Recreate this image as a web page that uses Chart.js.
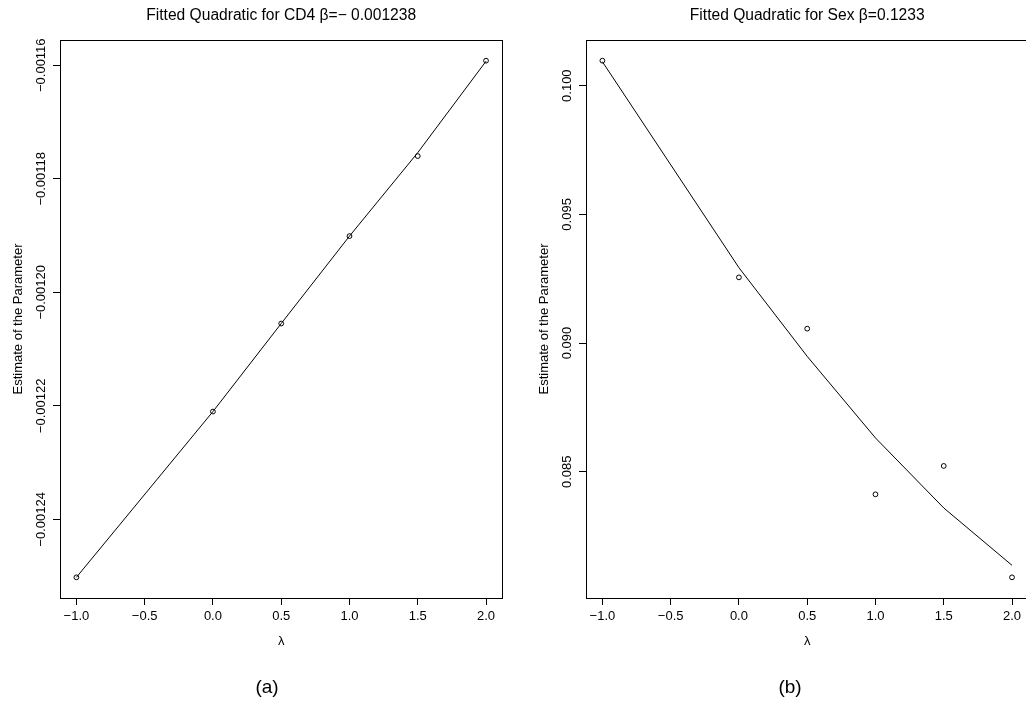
<!DOCTYPE html>
<html>
<head>
<meta charset="utf-8">
<title>Fitted Quadratic</title>
<script src="https://cdn.jsdelivr.net/npm/chart.js@4.4.0/dist/chart.umd.min.js"></script>
<style>
    html, body {
        margin: 0;
        padding: 0;
        background: #fff;
        overflow: hidden;
    }
    body {
        position: relative;
        width: 1026px;
        height: 705px;
        font-family: "Liberation Sans", Arial, sans-serif;
    }
    .panel {
        position: absolute;
        top: 0;
        width: 515px;
        height: 705px;
    }
    .caption {
        position: absolute;
        top: 676px;
        width: 100px;
        font-size: 19px;
        line-height: 22px;
        text-align: center;
        color: #000;
    }
</style>
</head>
<body>
<div class="panel" style="left:0"><canvas id="chart-a" width="515" height="705"></canvas></div>
<div class="panel" style="left:526px"><canvas id="chart-b" width="515" height="705"></canvas></div>
<div class="caption" style="left:217px">(a)</div>
<div class="caption" style="left:740px">(b)</div>

<script>
// values
const lambda = [-1, 0, 0.5, 1, 1.5, 2];

const cd4Est = [-0.0012502, -0.0012210, -0.0012055, -0.0011901, -0.0011760, -0.0011592];
const cd4Fit = [-0.0012502, -0.0012210, -0.0012055, -0.0011901, -0.0011754, -0.0011593];

const sexEst = [0.100971, 0.092552, 0.090559, 0.084122, 0.085225, 0.080897];
const sexFit = [0.100932, 0.092929, 0.089483, 0.086313, 0.083593, 0.081364];

const xTicks = [-1, -0.5, 0, 0.5, 1, 1.5, 2];
const xTickLabels = ['\u22121.0', '\u22120.5', '0.0', '0.5', '1.0', '1.5', '2.0'];

const cd4Ticks = [-0.00124, -0.00122, -0.00120, -0.00118, -0.00116];
const cd4TickLabels = ['\u22120.00124', '\u22120.00122', '\u22120.00120', '\u22120.00118', '\u22120.00116'];

const sexTicks = [0.085, 0.090, 0.095, 0.100];
const sexTickLabels = ['0.085', '0.090', '0.095', '0.100'];

const FONT = '"Liberation Sans", Arial, sans-serif';

// R style: range of the points plus 4% each side
function paddedRange(values) {
    const lo = Math.min(...values);
    const hi = Math.max(...values);
    const pad = (hi - lo) * 0.04;
    return [lo - pad, hi + pad];
}

// box round the plot and vertical y tick labels
const rFrame = {
    id: 'rFrame',
    afterDraw: function(chart) {
        const ctx = chart.ctx;
        const a = chart.chartArea;
        const y = chart.scales.y;
        ctx.save();
        ctx.strokeStyle = '#000';
        ctx.lineWidth = 1;
        const l = Math.round(a.left) + 0.5;
        const t = Math.round(a.top) + 0.5;
        const r = Math.round(a.right) + 0.5;
        const b = Math.round(a.bottom) + 0.5;
        ctx.strokeRect(l, t, r - l, b - t);

        ctx.fillStyle = '#000';
        ctx.font = '13px ' + FONT;
        ctx.textAlign = 'center';
        ctx.textBaseline = 'middle';
        y.ticks.forEach(tick => {
            const py = y.getPixelForValue(tick.value);
            ctx.save();
            ctx.translate(a.left - 19, py);
            ctx.rotate(-Math.PI / 2);
            ctx.fillText(tick.label, 0, 0);
            ctx.restore();
        });
        ctx.restore();
    }
};

function makePanel(canvasId, titleText, est, fit, yTicks, yTickLabels) {
    const xRange = paddedRange(lambda);
    const yRange = paddedRange(est);

    const config = {
        type: 'scatter',
        data: {
            datasets: [
                {
                    label: 'Fitted',
                    data: lambda.map((x, i) => ({ x: x, y: fit[i] })),
                    showLine: true,
                    borderColor: '#000',
                    borderWidth: 1,
                    pointRadius: 0,
                    tension: 0,
                    order: 2
                },
                {
                    label: 'Estimate',
                    data: lambda.map((x, i) => ({ x: x, y: est[i] })),
                    showLine: false,
                    pointRadius: 2.4,
                    pointBorderWidth: 1,
                    pointBorderColor: '#000',
                    pointBackgroundColor: 'rgba(0,0,0,0)',
                    order: 1
                }
            ]
        },
        options: {
            responsive: false,
            animation: false,
            events: [],
            layout: {
                padding: { left: 0, right: 12.6, top: 0, bottom: 0 }
            },
            scales: {
                x: {
                    type: 'linear',
                    min: xRange[0],
                    max: xRange[1],
                    afterBuildTicks: s => { s.ticks = xTicks.map(v => ({ value: v })); },
                    afterFit: s => { s.height = 107; },
                    grid: {
                        drawOnChartArea: false,
                        drawTicks: true,
                        tickLength: 7,
                        color: '#000'
                    },
                    border: { display: true, color: '#000', width: 1 },
                    ticks: {
                        color: '#000',
                        font: { family: FONT, size: 13 },
                        padding: 4,
                        maxRotation: 0,
                        autoSkip: false,
                        callback: (v, i) => xTickLabels[i]
                    },
                    title: {
                        display: true,
                        text: 'λ',
                        color: '#000',
                        font: { family: FONT, size: 13 },
                        padding: { top: 0, bottom: 56 }
                    }
                },
                y: {
                    type: 'linear',
                    min: yRange[0],
                    max: yRange[1],
                    afterBuildTicks: s => { s.ticks = yTicks.map(v => ({ value: v })); },
                    afterFit: s => { s.width = 60; },
                    grid: {
                        drawOnChartArea: false,
                        drawTicks: true,
                        tickLength: 7,
                        color: '#000'
                    },
                    border: { display: true, color: '#000', width: 1 },
                    ticks: {
                        color: 'rgba(0,0,0,0)',
                        font: { family: FONT, size: 13 },
                        autoSkip: false,
                        callback: (v, i) => yTickLabels[i]
                    },
                    title: {
                        display: true,
                        text: 'Estimate of the Parameter',
                        color: '#000',
                        font: { family: FONT, size: 13 },
                        padding: { top: 11, bottom: 0 }
                    }
                }
            },
            plugins: {
                legend: { display: false },
                tooltip: { enabled: false },
                title: {
                    display: true,
                    text: titleText,
                    color: '#000',
                    fullSize: false,
                    font: { family: FONT, size: 15.6, weight: 'normal' },
                    padding: { top: 6, bottom: 15.3 }
                }
            }
        },
        plugins: [rFrame]
    };

    new Chart(document.getElementById(canvasId).getContext('2d'), config);
}

makePanel('chart-a', 'Fitted Quadratic for CD4 β=\u2212 0.001238', cd4Est, cd4Fit, cd4Ticks, cd4TickLabels);
makePanel('chart-b', 'Fitted Quadratic for Sex β=0.1233', sexEst, sexFit, sexTicks, sexTickLabels);
</script>
</body>
</html>
